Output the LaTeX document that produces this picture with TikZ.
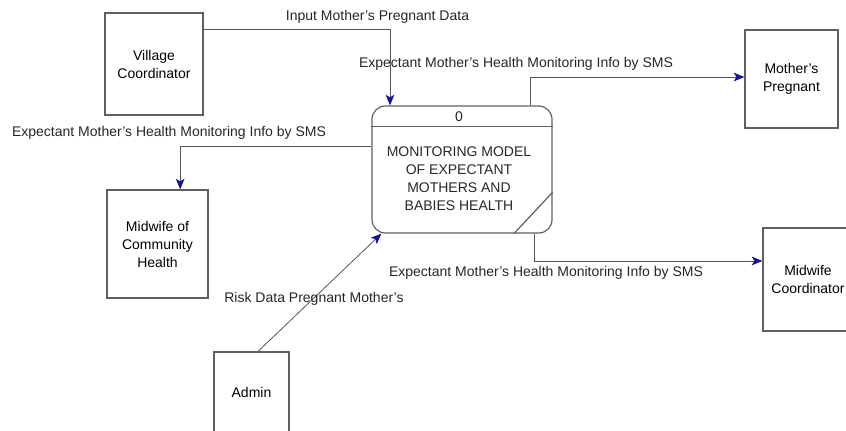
\documentclass[tikz,border=0pt]{standalone}
\usepackage{fontspec}
\setmainfont{Liberation Sans}
\usetikzlibrary{arrows.meta,positioning,calc}
\definecolor{lineGray}{RGB}{85,85,85}
\definecolor{boxEdge}{RGB}{95,95,95}
\definecolor{tipBlue}{RGB}{20,20,150}
\newcommand{\dfdfont}{\fontsize{10.5}{13.5}\selectfont}
\tikzset{
  extbox/.style={rectangle,draw=boxEdge,line width=0.9pt,align=center,inner sep=0pt,font=\dfdfont},
  procbox/.style={rectangle,rounded corners=10pt,draw=boxEdge,line width=0.9pt,inner sep=0pt},
  proctext/.style={align=center,inner sep=0pt,font=\dfdfont,text=black!85},
  flow/.style={-{Stealth[length=8pt,width=6.5pt,inset=2pt,color=tipBlue]},draw=lineGray,line width=0.6pt},
  flowlbl/.style={font=\dfdfont,inner sep=1pt,text=black!85}
}

\begin{document}
\begin{tikzpicture}[x=0.75pt,y=-0.75pt]
  \useasboundingbox (0,0) rectangle (846,430);

  % external entities
  \node[extbox,minimum width=73.5pt,minimum height=76.5pt] (village) at (154,64) {Village\\Coordinator};
  \node[extbox,minimum width=69.75pt,minimum height=73.5pt] (pregnant) at (791.5,79) {Mother's\\Pregnant};
  \node[extbox,minimum width=75.75pt,minimum height=81pt] (midcomm) at (157.5,244) {Midwife of\\Community\\Health};
  \node[extbox,minimum width=56.25pt,minimum height=60pt] (admin) at (251.5,392) {Admin};
  \node[extbox,minimum width=67.5pt,minimum height=77.25pt] (midcoord) at (808,279.5) {Midwife\\Coordinator};

  % process
  \node[procbox,minimum width=135pt,minimum height=95.25pt] (proc) at (462,169.5) {};
  \draw[boxEdge,line width=0.9pt] ([yshift=-15.75pt]proc.north west) -- ([yshift=-15.75pt]proc.north east);
  \draw[boxEdge,line width=0.9pt] ([xshift=-29pt]proc.south east) -- ([yshift=31pt]proc.south east);
  \node[proctext] (procid) at (459,116.5) {0};
  \node[proctext] (procname) at (459,179) {MONITORING MODEL\\OF EXPECTANT\\MOTHERS AND\\BABIES HEALTH};

  % data flows
  \draw[flow] ([yshift=-12.75pt]village.north east) -| ([xshift=-54pt]proc.north);
  \draw[flow] ([xshift=51pt]proc.north) |- ([yshift=1.5pt]pregnant.west);
  \draw[flow] ([yshift=17.6pt]proc.west) -| ([xshift=17pt]midcomm.north);
  \draw[flow] ([xshift=54pt]proc.south) |- ([yshift=13.9pt]midcoord.west);
  \draw[flow] ([xshift=4.9pt]admin.north) -- ([xshift=7.5pt]proc.south west);

  % flow labels
  \node[flowlbl] (lblinput) at (377.5,17) {Input Mother's Pregnant Data};
  \node[flowlbl] (lblpreg) at (516,64) {Expectant Mother's Health Monitoring Info by SMS};
  \node[flowlbl] (lblcomm) at (169,133) {Expectant Mother's Health Monitoring Info by SMS};
  \node[flowlbl] (lblcoord) at (546,273) {Expectant Mother's Health Monitoring Info by SMS};
  \node[flowlbl] (lblrisk) at (314,299) {Risk Data Pregnant Mother's};
\end{tikzpicture}
\end{document}
